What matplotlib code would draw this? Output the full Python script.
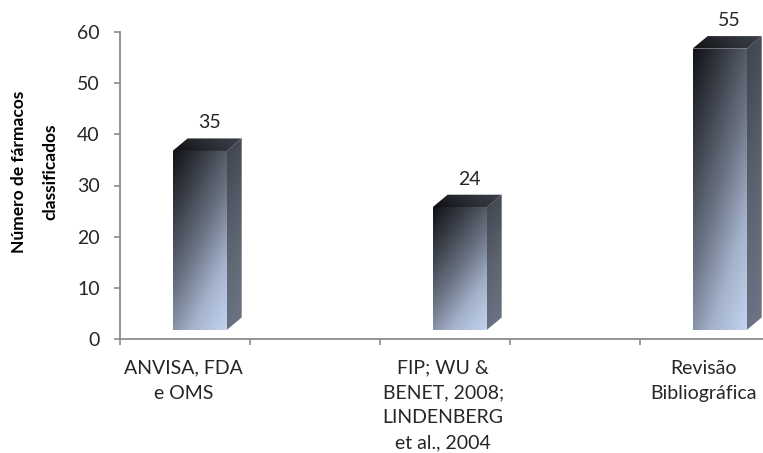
import numpy as np
import matplotlib
matplotlib.use("Agg")
import matplotlib.pyplot as plt
from matplotlib.patches import Polygon
from matplotlib.colors import LinearSegmentedColormap

categories = ["ANVISA, FDA\ne OMS",
              "FIP; WU &\nBENET, 2008;\nLINDENBERG\net al., 2004",
              "Revisão\nBibliográfica"]
values = [35, 24, 55]
y_ticks = [0, 10, 20, 30, 40, 50, 60]
y_label = "Número de fármacos\nclassificados"

plt.rcParams['font.family'] = ['Lato', 'DejaVu Sans']

W, H = 763, 453
fig = plt.figure(figsize=(W / 100, H / 100), dpi=100)
ax = fig.add_axes([119.5 / W, (H - 339) / H, 650 / W, (339 - 32) / H])
ax.set_xlim(0, 2.5)
ax.set_ylim(0, 60)

# 3D box geometry (category units on x, value units on y)
bar_w = 0.208
bar_shift = 0.308     # front-face centre offset inside each category
depth_x = 0.058
depth_y = 2.45
floor = 1.75

front_cmap = LinearSegmentedColormap.from_list(
    "front", ["#101216", "#3c414b", "#6c7585", "#a4b2cc", "#c4d4f0"])
side_cmap = LinearSegmentedColormap.from_list("side", ["#3e424b", "#5c6370", "#6f7787"])
top_cmap = LinearSegmentedColormap.from_list("top", ["#0e0f12", "#2a2d34", "#3d414a"])


def gradient_patch(ax, verts, img, extent, cmap):
    poly = Polygon(verts, closed=True, facecolor="none", edgecolor="none")
    ax.add_patch(poly)
    im = ax.imshow(img, cmap=cmap, extent=extent, origin="lower",
                   aspect="auto", interpolation="bicubic", zorder=2, vmin=0, vmax=1)
    im.set_clip_path(poly)


ny, nx = 200, 60
yy, xx = np.mgrid[0:1:ny * 1j, 0:1:nx * 1j]

for i, v in enumerate(values):
    x0 = i + bar_shift - bar_w / 2
    x1 = x0 + bar_w
    y0 = floor
    y1 = floor + v
    # front face: dark top-left, pale blue bottom-right
    g = np.clip(0.62 * (1 - yy) + 0.38 * xx, 0, 1)
    gradient_patch(ax, [(x0, y0), (x1, y0), (x1, y1), (x0, y1)], g,
                   [x0, x1, y0, y1], front_cmap)
    # side face
    side = [(x1, y0), (x1 + depth_x, y0 + depth_y), (x1 + depth_x, y1 + depth_y), (x1, y1)]
    gs = np.clip(0.85 * (1 - yy) + 0.15 * xx, 0, 1)
    gradient_patch(ax, side, gs, [x1, x1 + depth_x, y0, y1 + depth_y], side_cmap)
    # top face
    top = [(x0, y1), (x1, y1), (x1 + depth_x, y1 + depth_y), (x0 + depth_x, y1 + depth_y)]
    gt = np.clip(0.8 * xx + 0.2 * yy, 0, 1)
    gradient_patch(ax, top, gt, [x0, x1 + depth_x, y1, y1 + depth_y], top_cmap)
    ax.text(x0 + (bar_w + depth_x) / 2 + 0.008, y1 + depth_y + 1.4, str(v),
            ha="center", va="bottom", fontsize=14, color="#262626", zorder=3)

ax.set_xlim(0, 2.5)
ax.set_ylim(0, 60)

ax.set_yticks(y_ticks)
ax.set_yticklabels([str(t) for t in y_ticks], fontsize=14, color="#262626")
ax.set_xticks([0.0, 0.5, 1.0, 1.5, 2.0, 2.5])
ax.set_xticklabels([])
ax.set_xticks([i + 0.245 for i in range(len(categories))], minor=True)
ax.set_xticklabels(categories, minor=True, fontsize=14, color="#262626",
                   linespacing=1.55)
ax.tick_params(axis="x", which="minor", length=0, pad=15)
ax.tick_params(axis="x", which="major", length=4.3, width=1.2, color="#8c8c8c", direction="out")
ax.tick_params(axis="y", length=4.3, width=1.2, color="#8c8c8c", direction="out", pad=10)

for s in ("top", "right"):
    ax.spines[s].set_visible(False)
for s in ("left", "bottom"):
    ax.spines[s].set_color("#8c8c8c")
    ax.spines[s].set_linewidth(1.3)

fig.text(35 / W, 1 - 172 / H, y_label, rotation=90, ha="center", va="center",
         fontsize=12.5, fontweight="bold", color="#000000", linespacing=2.2)

fig.savefig("out.png", dpi=100, facecolor="white")
